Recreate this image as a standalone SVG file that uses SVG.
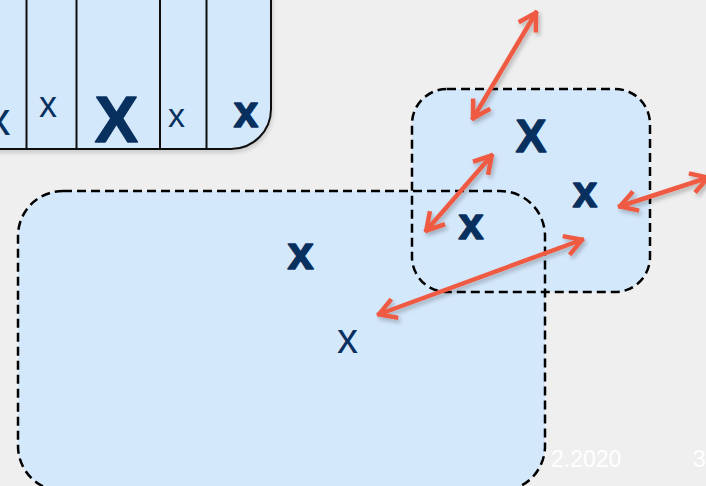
<svg xmlns="http://www.w3.org/2000/svg" xmlns:xlink="http://www.w3.org/1999/xlink" width="706" height="486" viewBox="0 0 706 486">
<style>
.bg{fill:#efefef}
.fill{fill:#d4e8fc}
.outline{fill:none;stroke:#000;stroke-width:2.5;stroke-dasharray:9 5}
.cell{fill:#d4e8fc;stroke:#111;stroke-width:2}
.sep{stroke:#111;stroke-width:2}
.lbl{font-family:"Liberation Sans",Arial,sans-serif;fill:#08305f;text-anchor:middle}
.b{font-weight:bold;stroke:#08305f;stroke-width:1.4;stroke-linejoin:round}
.foot{font-family:"Liberation Sans",Arial,sans-serif;fill:#ffffff;font-size:23px}
.arrow{fill:none;stroke:#ef5a42;stroke-width:4.5;marker-start:url(#head);marker-end:url(#head)}
</style>
<defs>
<filter id="shadow" x="-20%" y="-20%" width="140%" height="140%">
<feDropShadow dx="2" dy="3" stdDeviation="2" flood-color="#000" flood-opacity="0.25"/>
</filter>
<filter id="soft" x="-10%" y="-10%" width="120%" height="130%">
<feDropShadow dx="1" dy="3" stdDeviation="2" flood-color="#000" flood-opacity="0.15"/>
</filter>
<marker id="head" markerUnits="userSpaceOnUse" viewBox="-24 -16 32 32" markerWidth="32" markerHeight="32" refX="2" refY="0" orient="auto-start-reverse">
<path d="M-17,-10 L0,0 L-17,10" fill="none" stroke="#ef5a42" stroke-width="4.5" stroke-linejoin="round" stroke-linecap="butt"/>
</marker>
<rect id="bigShape" x="18" y="191" width="527" height="300" rx="45" ry="45"/>
<rect id="smallShape" x="412" y="89" width="238" height="203" rx="35" ry="35"/>
</defs>
<rect class="bg" x="0" y="0" width="706" height="486"/>

<text class="foot" x="551" y="467">2.2020</text>
<text class="foot" x="693" y="467">3</text>

<g id="table" filter="url(#soft)">
<path class="cell" d="M-10,-10 L271,-10 L271,109 A40,40 0 0 1 231,149 L-10,149 Z"/>
<line class="sep" x1="26.5" y1="-10" x2="26.5" y2="149"/>
<line class="sep" x1="76.5" y1="-10" x2="76.5" y2="149"/>
<line class="sep" x1="160" y1="-10" x2="160" y2="149"/>
<line class="sep" x1="206.5" y1="-10" x2="206.5" y2="149"/>
</g>
<g id="table-labels">
<text class="lbl" x="-1" y="135" font-size="46">x</text>
<text class="lbl" x="48" y="117" font-size="36">x</text>
<text class="lbl b" x="116.5" y="142" font-size="65">X</text>
<text class="lbl" x="176.5" y="127" font-size="34">x</text>
<text class="lbl b" x="246" y="127" font-size="44">x</text>
</g>

<g id="box-large">
<use xlink:href="#bigShape" class="fill"/>
</g>
<g id="box-small">
<use xlink:href="#smallShape" class="fill"/>
</g>
<g id="outlines">
<use xlink:href="#bigShape" class="outline"/>
<use xlink:href="#smallShape" class="outline"/>
</g>
<g id="box-large-labels">
<text class="lbl b" x="300.5" y="268.5" font-size="47">x</text>
<text class="lbl" x="347.5" y="353" font-size="42">x</text>
</g>
<g id="box-small-labels">
<text class="lbl b" x="531" y="151.5" font-size="46">X</text>
<text class="lbl b" x="585" y="206.5" font-size="44">x</text>
<text class="lbl b" x="471" y="238.5" font-size="45">x</text>
</g>

<g id="connectors" filter="url(#shadow)">
<line class="arrow" x1="537" y1="11" x2="472" y2="120"/>
<line class="arrow" x1="493" y1="154" x2="425" y2="232"/>
<line class="arrow" x1="618" y1="207" x2="710" y2="177"/>
<line class="arrow" x1="584" y1="239" x2="377" y2="315"/>
</g>
</svg>
